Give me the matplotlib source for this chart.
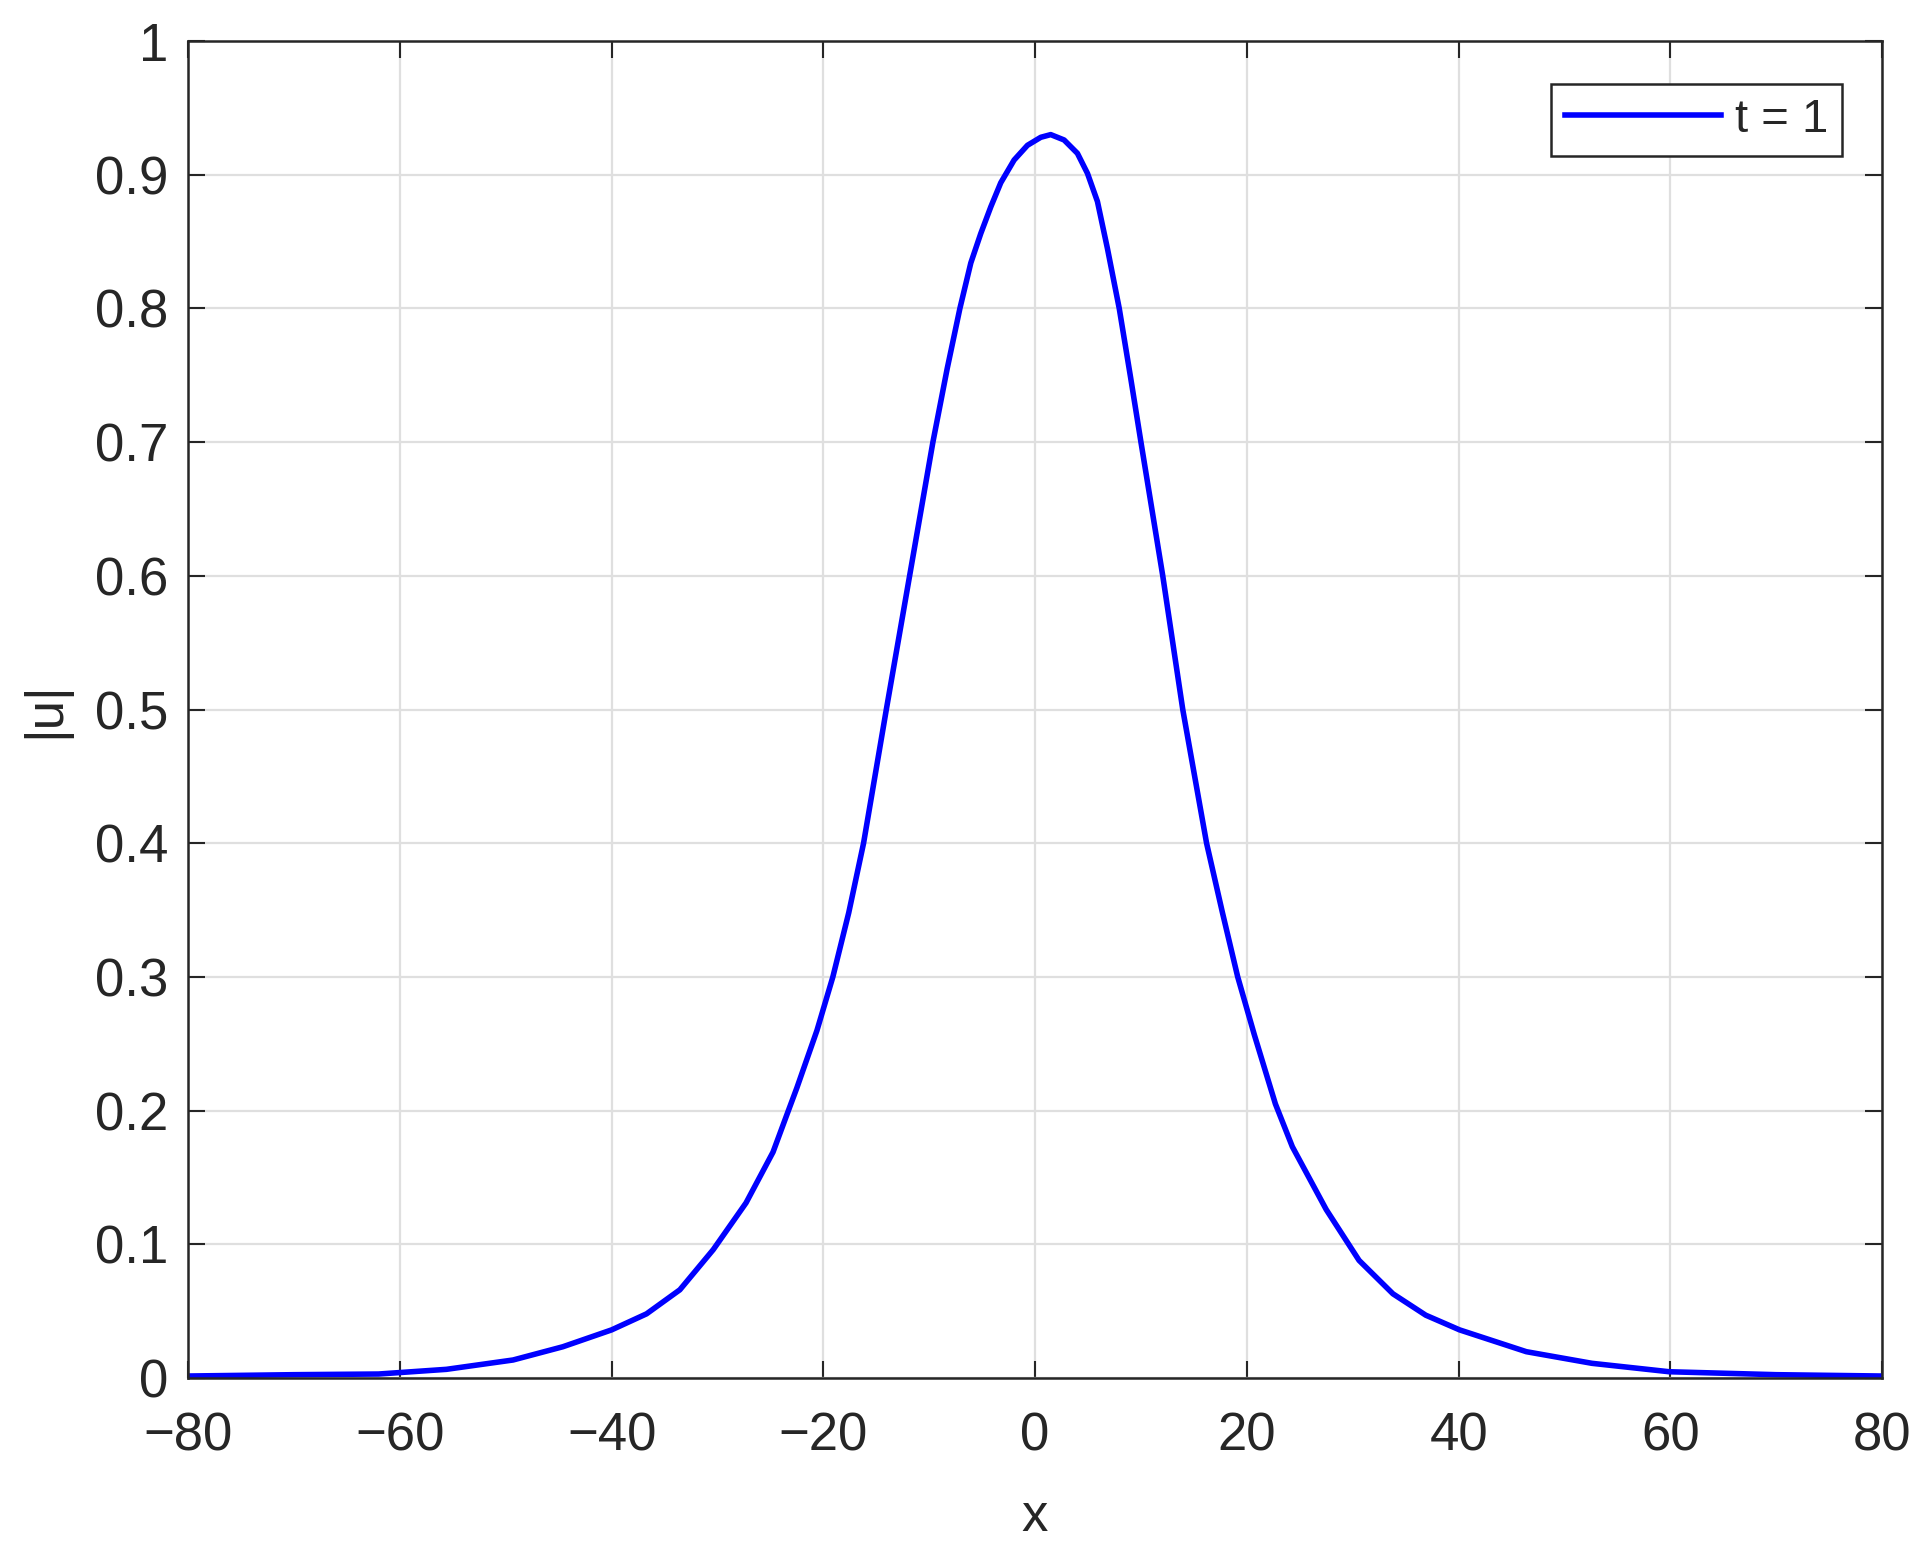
import matplotlib.pyplot as plt
from matplotlib.ticker import FuncFormatter

# values (|u| at t = 1)
x_vals = [-80, -70, -62, -55.6, -49.3, -44.6, -40, -36.7, -33.55, -30.4, -27.3,
          -24.75, -23.3, -22.5, -20.6, -19.1, -17.6, -16.2, -14.05, -11.85, -9.65,
          -8.3, -7.1, -6.07, -5.13, -4.18, -3.24, -1.98, -0.72, 0.54, 1.48, 2.74,
          4.0, 4.95, 5.89, 6.83, 7.95, 9.03, 10.0, 12.06, 13.95, 16.2, 17.7, 19.14,
          20.7, 22.7, 24.3, 27.5, 30.6, 33.8, 36.9, 40.1, 46.4, 52.6, 59.9, 70, 80]
u_vals = [0.0015, 0.0025, 0.003, 0.0065, 0.0135, 0.0234, 0.036, 0.048, 0.066, 0.096,
          0.131, 0.169, 0.2, 0.217, 0.26, 0.3, 0.348, 0.4, 0.5, 0.6, 0.7,
          0.755, 0.8, 0.834, 0.856, 0.876, 0.894, 0.911, 0.922, 0.928, 0.930, 0.926,
          0.916, 0.901, 0.88, 0.845, 0.8, 0.748, 0.7, 0.6, 0.5, 0.4, 0.348, 0.3,
          0.257, 0.205, 0.173, 0.126, 0.088, 0.063, 0.047, 0.036, 0.0197, 0.011,
          0.0047, 0.0025, 0.0015]
x_ticks = [-80, -60, -40, -20, 0, 20, 40, 60, 80]
y_ticks = [0, 0.1, 0.2, 0.3, 0.4, 0.5, 0.6, 0.7, 0.8, 0.9, 1]

plt.rcParams['font.family'] = ['Liberation Sans', 'DejaVu Sans']
dark = '#262626'

fig = plt.figure(figsize=(19.25, 15.48), dpi=100)
ax = fig.add_axes([0.0977, 0.1098, 0.88, 0.8637])

ax.plot(x_vals, u_vals, color='#0000ff', linewidth=4.0, label='t = 1')

ax.set_xlim(-80, 80)
ax.set_ylim(0, 1)
ax.set_xticks(x_ticks)
ax.set_yticks(y_ticks)
ax.yaxis.set_major_formatter(FuncFormatter(lambda v, p: '%g' % v))

ax.grid(True, color='#dfdfdf', linewidth=1.6)
ax.set_axisbelow(True)
ax.tick_params(direction='in', length=12, width=1.5, colors=dark,
               labelsize=38, top=True, right=True)
ax.tick_params(axis='x', pad=24)
ax.tick_params(axis='y', pad=14)
for s in ax.spines.values():
    s.set_color(dark)
    s.set_linewidth(1.8)

ax.set_xlabel('x', fontsize=38, color=dark, labelpad=22)
ax.set_ylabel('|u|', fontsize=38, color=dark, labelpad=18)

leg = ax.legend(loc='upper right', fontsize=34, fancybox=False, framealpha=1,
                edgecolor=dark, handlelength=3.3, handletextpad=0.3,
                borderpad=0.3, borderaxespad=0,
                bbox_to_anchor=(0.9764, 0.968))
leg.get_frame().set_linewidth(1.8)
for t in leg.get_texts():
    t.set_color(dark)

fig.savefig('out.png', dpi=100)
